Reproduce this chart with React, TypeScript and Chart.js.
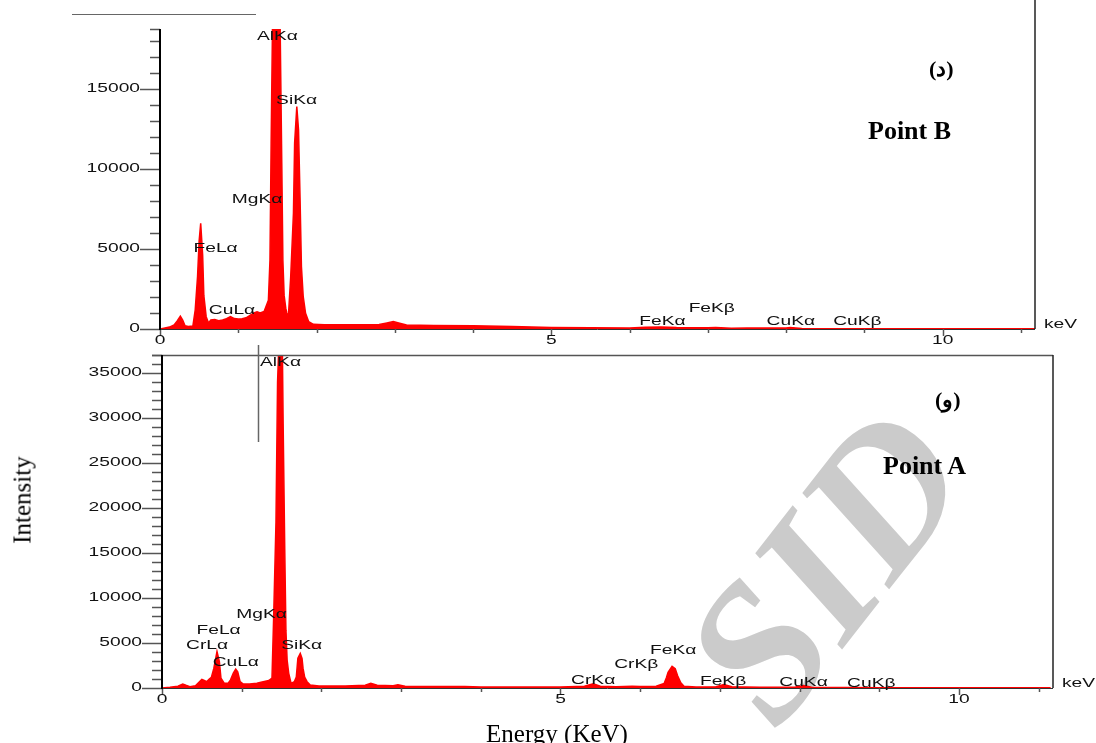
import React, { useEffect, useRef } from "react";
import { Chart, registerables } from "chart.js";

Chart.register(...registerables);

// ---------- Data: Point B (upper spectrum) ----------
const B_ENERGY = [
  0.0, 0.05, 0.12, 0.18, 0.22, 0.26, 0.29, 0.32, 0.36, 0.42, 0.45, 0.48, 0.5, 0.52, 0.545, 0.56, 0.59, 0.62,
  0.65, 0.7, 0.75, 0.8, 0.85, 0.9, 0.95, 1.0, 1.05, 1.1, 1.15, 1.2, 1.24, 1.28, 1.33, 1.385, 1.405, 1.42,
  1.44, 1.47, 1.5, 1.53, 1.556, 1.57, 1.586, 1.607, 1.62, 1.64, 1.67, 1.705, 1.72, 1.748, 1.77, 1.79, 1.807,
  1.83, 1.86, 1.9, 1.96, 2.1, 2.3, 2.5, 2.8, 2.9, 2.98, 3.05, 3.15, 3.5, 4.0, 4.5, 5.0, 5.5, 6.0, 6.2, 6.4,
  6.6, 7.0, 7.1, 7.3, 7.5, 8.0, 8.05, 8.2, 9.0, 10.0, 11.2,
];
const B_COUNTS = [
  0, 50, 120, 250, 500, 800, 550, 200, 150, 180, 1200, 3300, 5500, 6600, 4600, 2100, 770, 370,
  560, 600, 520, 560, 650, 780, 650, 620, 640, 700, 850, 1000, 1080, 1000, 1100, 1800, 4300, 11600,
  20000, 23000, 23000, 21000, 10350, 4300, 2100, 1300, 1000, 770, 3270, 7230, 11600, 13900, 12440, 8060, 3900,
  2020, 980, 460, 290, 270, 260, 260, 280, 380, 460, 380, 250, 220, 200, 150, 100, 80, 70, 110, 120,
  90, 80, 100, 50, 60, 60, 100, 30, 20, 12, 10,
];

// ---------- Data: Point A (lower spectrum) ----------
const A_ENERGY = [
  0.0, 0.1, 0.2, 0.26, 0.3, 0.35, 0.42, 0.47, 0.5, 0.53, 0.56, 0.59, 0.62, 0.65, 0.69, 0.72, 0.74, 0.78,
  0.83, 0.86, 0.895, 0.925, 0.95, 0.98, 1.02, 1.1, 1.19, 1.27, 1.34, 1.38, 1.4, 1.43, 1.45, 1.47, 1.49,
  1.51, 1.52, 1.54, 1.555, 1.57, 1.59, 1.62, 1.66, 1.685, 1.705, 1.735, 1.757, 1.77, 1.79, 1.82, 1.86,
  1.97, 2.3, 2.55, 2.62, 2.7, 2.9, 2.96, 3.05, 3.5, 3.8, 4.0, 4.5, 5.0, 5.3, 5.41, 5.5, 5.7, 5.9, 6.0,
  6.2, 6.3, 6.33, 6.35, 6.4, 6.44, 6.47, 6.51, 6.55, 6.7, 6.95, 7.05, 7.15, 7.5, 7.95, 8.05, 8.15, 9.0,
  11.15,
];
const A_COUNTS = [
  0, 80, 200, 440, 300, 150, 250, 700, 960, 850, 700, 960, 1200, 2180, 4040, 2930, 1080, 530,
  530, 900, 1650, 2100, 1800, 700, 440, 450, 530, 700, 830, 1100, 7560, 18370, 34000, 39000, 40000,
  38000, 29400, 15500, 6400, 3100, 1630, 520, 700, 1220, 3300, 3850, 3300, 2180, 1220, 700, 330,
  230, 220, 300, 520, 300, 250, 360, 200, 170, 180, 120, 110, 100, 200, 470, 200, 150, 200, 180,
  200, 500, 1160, 1740, 2400, 2130, 1350, 580, 200, 100, 150, 390, 150, 80, 100, 270, 80, 40,
  20,
];

// ---------- Tick values ----------
const B_Y_TICKS = [0, 5000, 10000, 15000];
const A_Y_TICKS = [0, 5000, 10000, 15000, 20000, 25000, 30000, 35000];
const X_TICKS = [0, 5, 10];

// ---------- Peak labels (anchored in data units) ----------
const B_LABELS = ["AlKα", "SiKα", "MgKα", "FeLα", "CuLα", "FeKα", "FeKβ", "CuKα", "CuKβ"];
const B_LABEL_E = [1.5, 1.745, 1.24, 0.71, 0.92, 6.42, 7.05, 8.06, 8.91];
const B_LABEL_C = [18250, 14300, 8060, 5000, 1125, 440, 1250, 440, 440];

const A_LABELS = ["AlKα", "MgKα", "FeLα", "CrLα", "CuLα", "SiKα", "CrKα", "CrKβ", "FeKα", "FeKβ", "CuKα", "CuKβ"];
const A_LABEL_E = [1.487, 1.25, 0.71, 0.565, 0.926, 1.753, 5.41, 5.95, 6.415, 7.04, 8.05, 8.9];
const A_LABEL_C = [36200, 8200, 6370, 4740, 2800, 4700, 780, 2600, 4190, 670, 555, 480];

const SX = 1.6; // horizontal stretch of the instrument font
const FONT = "12px 'Liberation Sans', Arial, sans-serif";

function sText(ctx: CanvasRenderingContext2D, t: string, x: number, y: number, align: CanvasTextAlign) {
  ctx.save();
  ctx.translate(x, y);
  ctx.scale(SX, 1);
  ctx.textAlign = align;
  ctx.textBaseline = "middle";
  ctx.fillText(t, 0, 0);
  ctx.restore();
}

const edsPlugin = {
  id: "eds",
  beforeDatasetsDraw(chart: any) {
    const { ctx, chartArea: a } = chart;
    ctx.save();
    ctx.strokeStyle = "#333";
    ctx.lineWidth = 1;
    ctx.beginPath();
    ctx.moveTo(a.left, a.bottom + 0.5);
    ctx.lineTo(a.right, a.bottom + 0.5);
    ctx.stroke();
    ctx.restore();
  },
  afterDatasetsDraw(chart: any, _args: any, o: any) {
    const { ctx, chartArea: a, scales } = chart;
    const x = scales.x;
    const y = scales.y;
    ctx.save();
    ctx.strokeStyle = "#555";
    ctx.lineWidth = 1.5;
    for (let v = 0; v <= y.max + 1; v += 1000) {
      const py = Math.round(y.getPixelForValue(v)) + 0.5;
      const len = v % 5000 === 0 ? 20 : 10;
      ctx.beginPath();
      ctx.moveTo(a.left - len, py);
      ctx.lineTo(a.left, py);
      ctx.stroke();
    }
    ctx.beginPath();
    ctx.moveTo(a.left - 10, a.top + 0.5);
    ctx.lineTo(o.frameTop ? a.right : a.left, a.top + 0.5);
    ctx.stroke();
    for (let v = 0; v <= x.max; v += 1) {
      const px = Math.round(x.getPixelForValue(v)) + 0.5;
      const len = v % 5 === 0 ? 7 : 4;
      ctx.beginPath();
      ctx.moveTo(px, a.bottom);
      ctx.lineTo(px, a.bottom + len);
      ctx.stroke();
    }
    ctx.strokeStyle = "#000";
    ctx.lineWidth = 2;
    ctx.beginPath();
    ctx.moveTo(a.left, a.top);
    ctx.lineTo(a.left, a.bottom + 1);
    ctx.stroke();
    ctx.lineWidth = 1.5;
    ctx.strokeStyle = "#222";
    ctx.beginPath();
    ctx.moveTo(a.right, o.rightFrom);
    ctx.lineTo(a.right, a.bottom);
    ctx.stroke();
    ctx.strokeStyle = "#666";
    ctx.lineWidth = o.artW;
    for (const s of o.artifacts) {
      ctx.beginPath();
      ctx.moveTo(s[0], s[1]);
      ctx.lineTo(s[2], s[3]);
      ctx.stroke();
    }
    ctx.fillStyle = "#111";
    ctx.font = FONT;
    for (const v of o.yTicks) {
      sText(ctx, String(v), a.left - 20, y.getPixelForValue(v), "right");
    }
    for (const v of X_TICKS) {
      sText(ctx, String(v), x.getPixelForValue(v), a.bottom + 12, "center");
    }
    sText(ctx, "keV", a.right + 9, a.bottom - 4, "left");
    o.labels.forEach((t: string, i: number) => {
      sText(ctx, t, x.getPixelForValue(o.labelE[i]), y.getPixelForValue(o.labelC[i]), "center");
    });
    ctx.restore();
  },
};

function Spectrum(props: {
  energy: number[];
  counts: number[];
  xMax: number;
  yMax: number;
  width: number;
  height: number;
  padding: any;
  plugin: any;
}) {
  const ref = useRef<HTMLCanvasElement | null>(null);
  useEffect(() => {
    if (!ref.current) return;
    const chart = new Chart(ref.current, {
      type: "line",
      data: {
        datasets: [
          {
            data: props.energy.map((e, i) => ({ x: e, y: props.counts[i] })),
            borderColor: "#ff0000",
            backgroundColor: "#ff0000",
            borderWidth: 1.5,
            fill: "origin",
            pointRadius: 0,
            tension: 0,
          },
        ],
      },
      options: {
        animation: false,
        responsive: false,
        devicePixelRatio: 1,
        layout: { padding: props.padding },
        plugins: { legend: { display: false }, tooltip: { enabled: false }, eds: props.plugin } as any,
        scales: {
          x: { type: "linear", min: 0, max: props.xMax, display: false },
          y: { type: "linear", min: 0, max: props.yMax, display: false },
        },
      },
      plugins: [edsPlugin],
    });
    return () => chart.destroy();
  }, []);
  return <canvas ref={ref} width={props.width} height={props.height} style={{ display: "block" }} />;
}

const serif = "'Liberation Serif', 'Times New Roman', serif";

export default function App() {
  return (
    <div
      style={{
        position: "absolute",
        left: 0,
        top: 0,
        width: 1096,
        height: 743,
        background: "#fff",
        overflow: "hidden",
        fontFamily: serif,
      }}
    >
      <div
        style={{
          position: "absolute",
          left: 825,
          top: 565,
          transform: "translate(-50%, -50%) rotate(-52deg)",
          fontFamily: serif,
          fontStyle: "italic",
          fontWeight: "bold",
          fontSize: 195,
          color: "#cbcbcb",
          whiteSpace: "nowrap",
          lineHeight: 1,
        }}
      >
        SID
      </div>
      <div style={{ position: "absolute", left: 0, top: 0 }}>
        <Spectrum
          energy={B_ENERGY}
          counts={B_COUNTS}
          xMax={11.18}
          yMax={18750}
          width={1096}
          height={352}
          padding={{ left: 160, right: 61, top: 29, bottom: 23 }}
          plugin={{
            yTicks: B_Y_TICKS,
            labels: B_LABELS,
            labelE: B_LABEL_E,
            labelC: B_LABEL_C,
            frameTop: false,
            rightFrom: 0,
            artW: 1,
            artifacts: [[72, 14.5, 256, 14.5]],
          }}
        />
      </div>
      <div style={{ position: "absolute", left: 0, top: 338 }}>
        <Spectrum
          energy={A_ENERGY}
          counts={A_COUNTS}
          xMax={11.18}
          yMax={37000}
          width={1096}
          height={405}
          padding={{ left: 162, right: 43, top: 17, bottom: 55 }}
          plugin={{
            yTicks: A_Y_TICKS,
            labels: A_LABELS,
            labelE: A_LABEL_E,
            labelC: A_LABEL_C,
            frameTop: true,
            rightFrom: 17,
            artW: 1.5,
            artifacts: [[258.5, 7, 258.5, 104]],
          }}
        />
      </div>
      <div style={{ position: "absolute", left: 868, top: 118, fontSize: 26, fontWeight: "bold", lineHeight: 1 }}>
        Point B
      </div>
      <div style={{ position: "absolute", left: 929, top: 58, fontSize: 22, fontWeight: "bold", lineHeight: 1 }}>
        (د)
      </div>
      <div style={{ position: "absolute", left: 883, top: 453, fontSize: 26, fontWeight: "bold", lineHeight: 1 }}>
        Point A
      </div>
      <div style={{ position: "absolute", left: 935, top: 389, fontSize: 22, fontWeight: "bold", lineHeight: 1 }}>
        (و)
      </div>
      <div
        style={{
          position: "absolute",
          left: 22,
          top: 500,
          transform: "translate(-50%, -50%) rotate(-90deg)",
          fontSize: 25,
          whiteSpace: "nowrap",
          lineHeight: 1,
        }}
      >
        Intensity
      </div>
      <div
        style={{
          position: "absolute",
          left: 557,
          top: 733,
          transform: "translate(-50%, -50%)",
          fontSize: 25,
          whiteSpace: "nowrap",
          lineHeight: 1,
        }}
      >
        Energy (KeV)
      </div>
    </div>
  );
}
